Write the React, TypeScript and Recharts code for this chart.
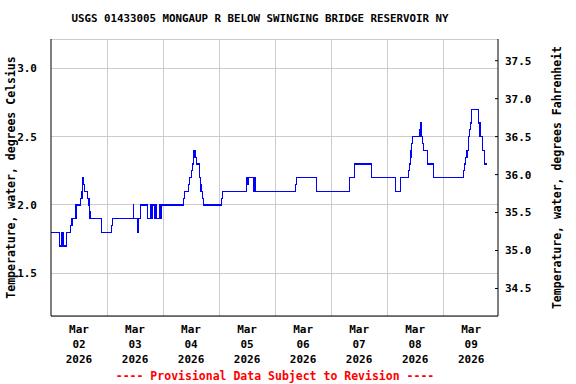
import { CartesianGrid, Label, Line, LineChart, XAxis, YAxis } from "recharts";

// hours since 2026-03-02 00:00 where the reading changes, and the reading (deg C)
const hours = [
  0, 3.75, 4.5, 4.75, 5.25, 5.5, 6.75, 8.5, 9, 10.75, 12.5, 13.25, 13.5, 13.75,
  14, 14.5, 15.5, 16.25, 16.5, 16.75, 21.5, 25.75, 26.5, 35.25, 35.5, 37, 37.25,
  38.25, 41.25, 42.5, 43, 43.5, 44.25, 44.5, 45, 46.5, 46.75, 47.5, 56.75, 57.25,
  58.75, 59.5, 60.25, 60.75, 61, 61.25, 62, 62.5, 63.5, 64, 64.25, 65, 65.5, 73,
  73.5, 83.75, 84, 84.5, 86.75, 87, 87.5, 104.75, 105.25, 113.75, 127.75, 130,
  137.25, 147.5, 149.75, 153.25, 153.75, 154, 154.25, 154.5, 155, 157.75, 158.25,
  158.5, 159.25, 159.75, 161.25, 163.75, 176.75, 177, 177.5, 178.25, 178.75,
  179.25, 179.75, 180, 183, 183.75, 184.75, 185.75, 186.75,
];
const tempC = [
  1.8, 1.7, 1.8, 1.7, 1.8, 1.7, 1.8, 1.85, 1.9, 2.0, 2.05, 2.1, 2.15, 2.2,
  2.15, 2.1, 2.05, 2.0, 1.95, 1.9, 1.8, 1.85, 1.9, 2.0, 1.9, 1.8, 1.9,
  2.0, 1.9, 2.0, 1.9, 2.0, 1.9, 2.0, 1.9, 2.0, 1.9, 2.0, 2.05, 2.1,
  2.15, 2.2, 2.25, 2.3, 2.35, 2.4, 2.35, 2.3, 2.2, 2.15, 2.1, 2.05, 2.0, 2.05,
  2.1, 2.2, 2.15, 2.2, 2.1, 2.2, 2.1, 2.15, 2.2, 2.1, 2.2, 2.3,
  2.2, 2.1, 2.2, 2.25, 2.3, 2.35, 2.4, 2.45, 2.5, 2.55, 2.6,
  2.5, 2.45, 2.4, 2.3, 2.2, 2.25, 2.3, 2.35, 2.4, 2.5,
  2.55, 2.6, 2.7, 2.6, 2.5, 2.4, 2.3, 2.3,
];

const labelHours = [12, 36, 60, 84, 108, 132, 156, 180];
const labelMonths = ["Mar", "Mar", "Mar", "Mar", "Mar", "Mar", "Mar", "Mar"];
const labelDays = ["02", "03", "04", "05", "06", "07", "08", "09"];
const labelYears = ["2026", "2026", "2026", "2026", "2026", "2026", "2026", "2026"];
const midnightHours = [24, 48, 72, 96, 120, 144, 168];
const celsiusTicks = [1.5, 2.0, 2.5, 3.0];
const fahrenheitTicks = [34.5, 35.0, 35.5, 36.0, 36.5, 37.0, 37.5];

const timeDomain = [0, 191.5];
const celsiusDomain = [1.1876, 3.2144];
const fahrenheitDomain = celsiusDomain.map((c) => c * 1.8 + 32);

const data = hours.map((h, i) => ({ h, c: tempC[i] }));

const font = "'DejaVu Sans Mono', monospace";
const tickStyle = { fontSize: 11, fontFamily: font, fontWeight: 700, fill: "#000" };

// vertical grid lines at midnight, placed through the time axis scale
function midnightLines(props: any) {
  const axis = props.xAxis;
  if (axis && typeof axis.scale === "function") {
    return midnightHours.map((h) => axis.scale(h));
  }
  const { left, width } = props.offset;
  return midnightHours.map(
    (h) => left + ((h - timeDomain[0]) / (timeDomain[1] - timeDomain[0])) * width,
  );
}

function DateTick(props: any) {
  const { x, y, payload } = props;
  const i = labelHours.indexOf(payload.value);
  return (
    <text x={x} y={y} textAnchor="middle" style={tickStyle}>
      <tspan x={x} dy={17}>{labelMonths[i]}</tspan>
      <tspan x={x} dy={15}>{labelDays[i]}</tspan>
      <tspan x={x} dy={15}>{labelYears[i]}</tspan>
    </text>
  );
}

function AxisTitle(props: any) {
  const { viewBox, value, dx } = props;
  const cx = viewBox.x + dx;
  const cy = viewBox.y + viewBox.height / 2;
  return (
    <text
      x={cx}
      y={cy}
      textAnchor="middle"
      dominantBaseline="central"
      transform={`rotate(-90 ${cx} ${cy})`}
      style={{ ...tickStyle, fontSize: 11.5 }}
    >
      {value}
    </text>
  );
}

export default function App() {
  return (
    <div style={{ position: "absolute", left: 0, top: 0, width: 576, height: 384, background: "#fff" }}>
      <div
        style={{
          position: "absolute",
          left: 260,
          top: 12,
          transform: "translateX(-50%)",
          whiteSpace: "nowrap",
          fontFamily: font,
          fontWeight: 700,
          fontSize: 10.8,
        }}
      >
        USGS 01433005 MONGAUP R BELOW SWINGING BRIDGE RESERVOIR NY
      </div>
      <LineChart
        width={576}
        height={384}
        data={data}
        margin={{ top: 39, right: 0, bottom: 0, left: 0 }}
      >
        <XAxis
          xAxisId="top"
          orientation="top"
          dataKey="h"
          type="number"
          domain={timeDomain}
          allowDataOverflow
          height={0}
          tick={false}
          tickLine={false}
          axisLine={{ stroke: "#000", strokeWidth: 1 }}
        />
        <CartesianGrid
          xAxisId="time"
          yAxisId="c"
          stroke="#cccccc"
          strokeDasharray=""
          shapeRendering="crispEdges"
          verticalCoordinatesGenerator={midnightLines}
        />
        <XAxis
          xAxisId="time"
          dataKey="h"
          type="number"
          domain={timeDomain}
          ticks={labelHours}
          allowDataOverflow
          height={68}
          tickSize={0}
          tickMargin={0}
          tickLine={false}
          axisLine={{ stroke: "#000", strokeWidth: 1 }}
          tick={<DateTick />}
          interval={0}
        />
        <YAxis
          yAxisId="c"
          orientation="left"
          type="number"
          domain={celsiusDomain}
          ticks={celsiusTicks}
          allowDataOverflow
          width={51}
          tickLine={false}
          tickMargin={8}
          tick={tickStyle}
          tickFormatter={(v: number) => v.toFixed(1)}
          axisLine={{ stroke: "#000", strokeWidth: 1 }}
        >
          <Label
            value="Temperature, water, degrees Celsius"
            content={(p: any) => <AxisTitle {...p} value="Temperature, water, degrees Celsius" dx={11} />}
          />
        </YAxis>
        <YAxis
          yAxisId="f"
          orientation="right"
          type="number"
          domain={fahrenheitDomain}
          ticks={fahrenheitTicks}
          allowDataOverflow
          width={78}
          tickSize={-3}
          tickMargin={10}
          tickLine={{ stroke: "#000" }}
          tick={tickStyle}
          tickFormatter={(v: number) => v.toFixed(1)}
          axisLine={{ stroke: "#000", strokeWidth: 1 }}
        >
          <Label
            value="Temperature, water, degrees Fahrenheit"
            content={(p: any) => <AxisTitle {...p} value="Temperature, water, degrees Fahrenheit" dx={59} />}
          />
        </YAxis>
        <Line
          xAxisId="time"
          yAxisId="c"
          type="stepAfter"
          dataKey="c"
          stroke="#0000ff"
          strokeWidth={1.2}
          shapeRendering="crispEdges"
          dot={false}
          activeDot={false}
          isAnimationActive={false}
        />
      </LineChart>
      <div
        style={{
          position: "absolute",
          left: 275,
          top: 369,
          transform: "translateX(-50%)",
          whiteSpace: "nowrap",
          fontFamily: font,
          fontWeight: 700,
          fontSize: 11.5,
          color: "#ff0000",
        }}
      >
        ---- Provisional Data Subject to Revision ----
      </div>
    </div>
  );
}
